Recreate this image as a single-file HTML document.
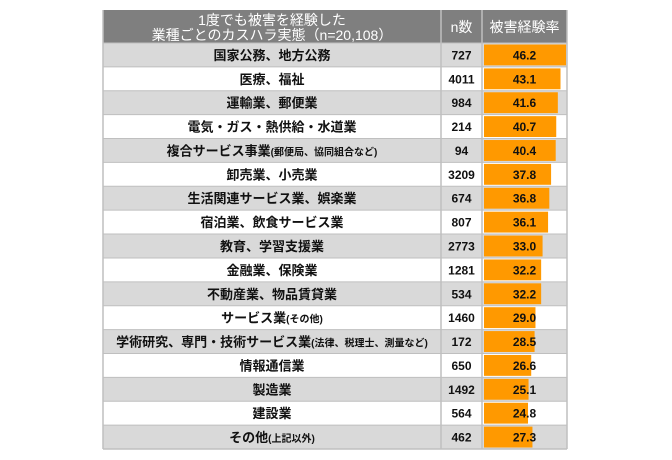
<!DOCTYPE html>
<html><head><meta charset="utf-8"><style>
body{margin:0;background:#fff;width:672px;height:460px;overflow:hidden}
svg{display:block;font-family:"Liberation Sans","Noto Sans CJK JP",sans-serif}
</style></head><body>
<svg id="chart" width="672" height="460"></svg>
<script>
const categories=["国家公務、地方公務","医療、福祉","運輸業、郵便業","電気・ガス・熱供給・水道業","複合サービス事業|(郵便局、協同組合など)","卸売業、小売業","生活関連サービス業、娯楽業","宿泊業、飲食サービス業","教育、学習支援業","金融業、保険業","不動産業、物品賃貸業","サービス業|(その他)","学術研究、専門・技術サービス業|(法律、税理士、測量など)","情報通信業","製造業","建設業","その他|(上記以外)"];
const nCounts=[727,4011,984,214,94,3209,674,807,2773,1281,534,1460,172,650,1492,564,462];
const rates=[46.2,43.1,41.6,40.7,40.4,37.8,36.8,36.1,33.0,32.2,32.2,29.0,28.5,26.6,25.1,24.8,27.3];
const rateLabels=["46.2","43.1","41.6","40.7","40.4","37.8","36.8","36.1","33.0","32.2","32.2","29.0","28.5","26.6","25.1","24.8","27.3"];

const svg=document.getElementById('chart');
const NS='http://www.w3.org/2000/svg';
const L=103,C1=441,C2=482,R=567,HT=10,HB=43,BOT=449;
const rowH=(BOT-HB)/categories.length;
const barX0=484,pxPerUnit=82/46.2;
const x=v=>barX0+v*pxPerUnit;
const y=i=>HB+i*rowH;
function mk(t,a){const e=document.createElementNS(NS,t);for(const k in a)e.setAttribute(k,a[k]);svg.appendChild(e);return e;}

const hdr=mk('rect',{x:L,y:HT,width:R-L,height:HB-HT,fill:'#7f7f7f'});


const t1=mk('text',{x:(L+C1)/2,y:25,'text-anchor':'middle','font-size':'14',fill:'#fff'});
t1.textContent='1度でも被害を経験した';


const t2=mk('text',{x:(L+C1)/2,y:40,'text-anchor':'middle','font-size':'14',fill:'#fff'});
t2.textContent='業種ごとのカスハラ実態（n=20,108）';


const h2=mk('text',{x:(C1+C2)/2,y:32,'text-anchor':'middle','font-size':'14',fill:'#fff'});
h2.textContent='n数';


const h3=mk('text',{x:(C2+R)/2,y:32,'text-anchor':'middle','font-size':'14',fill:'#fff'});
h3.textContent='被害経験率';



categories.forEach((c,i)=>{
  const bg=mk('rect',{x:L,y:y(i),width:R-L,height:rowH,fill:i%2===0?'#d9d9d9':'#ffffff'});
  
  
  const bar=mk('rect',{x:barX0,y:y(i)+1.5,width:x(rates[i])-barX0,height:rowH-3,fill:'#ff9900'});
  
  
  const parts=c.split('|');
  const lt=mk('text',{x:(L+C1)/2,y:y(i)+rowH/2+5,'text-anchor':'middle','font-size':'13','font-weight':'bold',fill:'#111'});
  
  
  const s1=document.createElementNS(NS,'tspan');s1.textContent=parts[0];lt.appendChild(s1);
  if(parts[1]){const s2=document.createElementNS(NS,'tspan');s2.setAttribute('font-size','10');s2.textContent=parts[1];lt.appendChild(s2);}
  const nt=mk('text',{x:(C1+C2)/2,y:y(i)+rowH/2+4.5,'text-anchor':'middle','font-size':'12','font-weight':'bold',fill:'#111'});
  nt.textContent=nCounts[i];
  
  
  const rt=mk('text',{x:(C2+R)/2,y:y(i)+rowH/2+4.5,'text-anchor':'middle','font-size':'12','font-weight':'bold',fill:'#111'});
  rt.textContent=rateLabels[i];
  
  
  const ln=mk('line',{x1:L,x2:R,y1:y(i),y2:y(i),stroke:'#bfbfbf','stroke-width':1});
  
  
});
[L,C1,C2,R].forEach(cx=>{
  const v=mk('line',{x1:cx,x2:cx,y1:HT,y2:BOT,stroke:'#bfbfbf','stroke-width':1.5});
  
  
});
const bl=mk('line',{x1:L,x2:R,y1:BOT,y2:BOT,stroke:'#bfbfbf','stroke-width':1.5});


</script>
</body></html>
